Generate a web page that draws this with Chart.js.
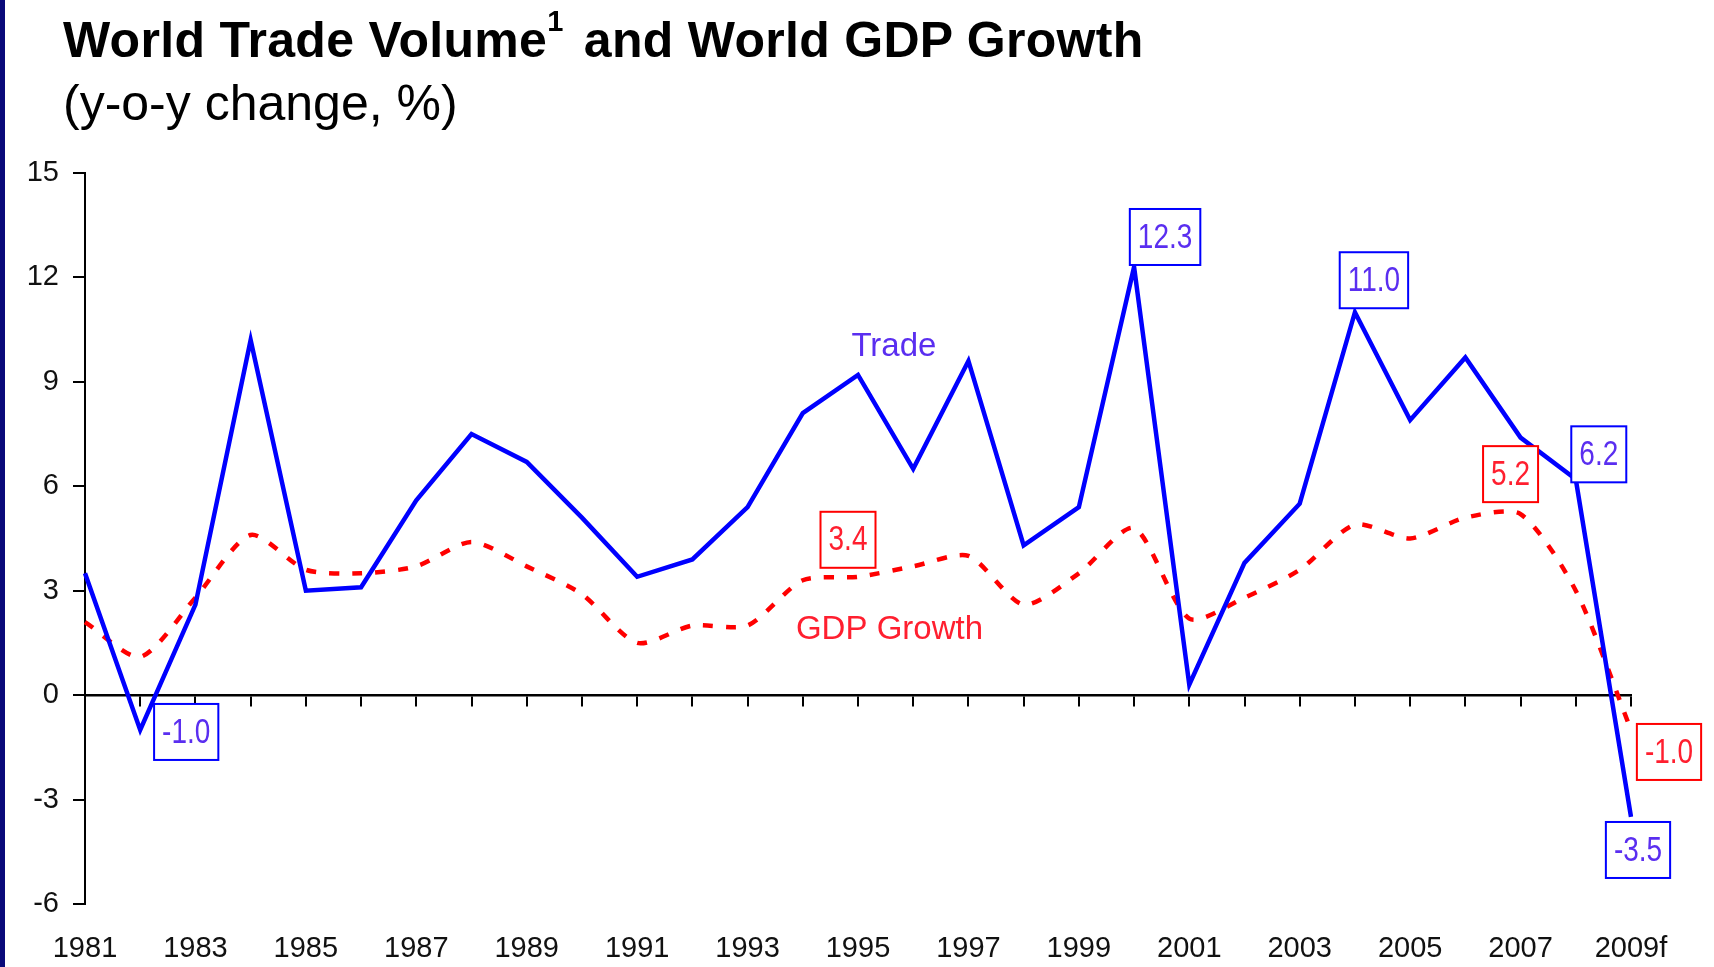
<!DOCTYPE html>
<html>
<head>
<meta charset="utf-8">
<script src="https://cdn.jsdelivr.net/npm/chart.js@4.4.1/dist/chart.umd.min.js"></script>
<style>
  body { margin: 0; background: #fff; }
  #wrap { position: relative; width: 1714px; height: 967px; overflow: hidden; background: #fff; }
  #strip { position: absolute; left: 0; top: 0; width: 5px; height: 967px; background: #0a0a7a; }
  #chart { position: absolute; left: 0; top: 0; }
  .title { position: absolute; left: 63px; top: 15px; font: bold 50px 'Liberation Sans', Arial, sans-serif; line-height: 50px; color: #000; white-space: nowrap; letter-spacing: 0.3px; }
  .title .sup { font-size: 29px; position: relative; top: -26px; margin-right: 6px; }
  .subtitle { position: absolute; left: 63px; top: 78px; font: 50px 'Liberation Sans', Arial, sans-serif; line-height: 50px; color: #000; white-space: nowrap; }
</style>
</head>
<body>
<div id="wrap">
  <canvas id="chart" width="1714" height="967"></canvas>
  <div id="strip"></div>
  <div class="title">World Trade Volume<span class="sup">1</span> and World GDP Growth</div>
  <div class="subtitle">(y-o-y change, %)</div>
</div>
<script>
const years = [
    "1981", "1982", "1983", "1984", "1985", "1986", "1987", "1988", "1989", "1990",
    "1991", "1992", "1993", "1994", "1995", "1996", "1997", "1998", "1999", "2000",
    "2001", "2002", "2003", "2004", "2005", "2006", "2007", "2008", "2009f"
];
const tradeVolume = [
    3.5, -1.0, 2.6, 10.2, 3.0, 3.1, 5.6, 7.5, 6.7, 5.1,
    3.4, 3.9, 5.4, 8.1, 9.2, 6.5, 9.6, 4.3, 5.4, 12.3,
    0.3, 3.8, 5.5, 11.0, 7.9, 9.7, 7.4, 6.2, -3.5
];
const gdpGrowth = [
    2.1, 1.1, 2.8, 4.6, 3.6, 3.5, 3.7, 4.4, 3.7, 2.9,
    1.5, 2.0, 2.0, 3.3, 3.4, 3.7, 4.0, 2.6, 3.5, 4.8,
    2.2, 2.8, 3.6, 4.9, 4.5, 5.1, 5.2, 3.0, -1.0
];
const yTicks = { min: -6, max: 15, step: 3 };

const textFont = "'Liberation Sans', Arial, sans-serif";

// boxed value labels: dataset, point index, offset of box centre from the point
const valueBoxes = [
    { ds: 0, i: 1,  dx: 46,  dy: 2 },
    { ds: 0, i: 19, dx: 31,  dy: -30 },
    { ds: 0, i: 23, dx: 19,  dy: -32 },
    { ds: 0, i: 27, dx: 23,  dy: -25 },
    { ds: 0, i: 28, dx: 7,   dy: 33 },
    { ds: 1, i: 14, dx: -10, dy: -37 },
    { ds: 1, i: 26, dx: -10, dy: -40 },
    { ds: 1, i: 28, dx: 38,  dy: 22 }
];

const seriesNames = [
    { text: "Trade", x: 14.65, y: 10.0, color: "#5a2ef0" },
    { text: "GDP Growth", x: 14.57, y: 1.86, color: "#ff1f2f" }
];

const labelsPlugin = {
    id: 'labelsPlugin',
    afterDatasetsDraw(chart) {
        const ctx = chart.ctx;
        const xs = chart.scales.x, ys = chart.scales.y;
        ctx.save();
        ctx.textBaseline = 'middle';
        ctx.textAlign = 'center';
        // series names
        ctx.font = "33px " + textFont;
        seriesNames.forEach(function(n) {
            ctx.fillStyle = n.color;
            const px = xs.left + (xs.right - xs.left) * n.x / (years.length - 1);
            ctx.fillText(n.text, px, ys.getPixelForValue(n.y));
        });
        // value boxes, numbers drawn a little condensed like the original
        const squeeze = 0.8;
        ctx.font = "35px " + textFont;
        valueBoxes.forEach(function(b) {
            const ds = chart.data.datasets[b.ds];
            const pt = chart.getDatasetMeta(b.ds).data[b.i];
            const txt = ds.data[b.i].toFixed(1);
            const w = Math.max(ctx.measureText(txt).width * squeeze + 16, 55);
            const h = 56;
            const cx = pt.x + b.dx, cy = pt.y + b.dy;
            ctx.fillStyle = '#fff';
            ctx.fillRect(cx - w / 2, cy - h / 2, w, h);
            ctx.lineWidth = 2;
            ctx.strokeStyle = ds.borderColor;
            ctx.strokeRect(cx - w / 2, cy - h / 2, w, h);
            ctx.fillStyle = ds.labelColor;
            ctx.save();
            ctx.translate(cx, cy + 1);
            ctx.scale(squeeze, 1);
            ctx.fillText(txt, 0, 0);
            ctx.restore();
        });
        ctx.restore();
    }
};

new Chart(document.getElementById('chart'), {
    type: 'line',
    data: {
        labels: years,
        datasets: [{
            label: 'Trade',
            data: tradeVolume,
            borderColor: '#0000ff',
            labelColor: '#5a2ef0',
            borderWidth: 4.5,
            pointRadius: 0,
            tension: 0,
            fill: false
        }, {
            label: 'GDP Growth',
            data: gdpGrowth,
            borderColor: '#ff0000',
            labelColor: '#ff1f2f',
            borderWidth: 4.5,
            borderDash: [10, 13],
            pointRadius: 0,
            tension: 0.25,
            fill: false
        }]
    },
    options: {
        responsive: false,
        devicePixelRatio: 1,
        animation: false,
        layout: { padding: { top: 173, right: 83, bottom: 0, left: 0 } },
        plugins: {
            legend: { display: false },
            tooltip: { enabled: false }
        },
        scales: {
            x: {
                type: 'category',
                position: 'bottom',
                offset: false,
                border: { display: false },
                grid: { display: false, drawTicks: false },
                ticks: {
                    autoSkip: false,
                    maxRotation: 0,
                    padding: 28,
                    color: '#111',
                    font: { family: textFont, size: 29 },
                    callback: function(v, i) { return i % 2 === 0 ? years[i] : ''; }
                },
                afterFit: function(s) { s.height = 63; }
            },
            x2: {
                type: 'category',
                position: { y: 0 },
                offset: false,
                border: { display: true, color: '#000', width: 2.5 },
                grid: { display: true, drawOnChartArea: false, drawTicks: true, tickLength: 10, color: '#000', lineWidth: 2 },
                ticks: { display: false }
            },
            y: {
                min: yTicks.min,
                max: yTicks.max,
                border: { display: true, color: '#000', width: 2 },
                grid: { display: true, drawOnChartArea: false, drawTicks: true, tickLength: 12, color: '#000', lineWidth: 2 },
                ticks: {
                    stepSize: yTicks.step,
                    padding: 14,
                    color: '#111',
                    font: { family: textFont, size: 29 }
                },
                afterFit: function(s) { s.width = 85; }
            }
        }
    },
    plugins: [labelsPlugin]
});
</script>
</body>
</html>
